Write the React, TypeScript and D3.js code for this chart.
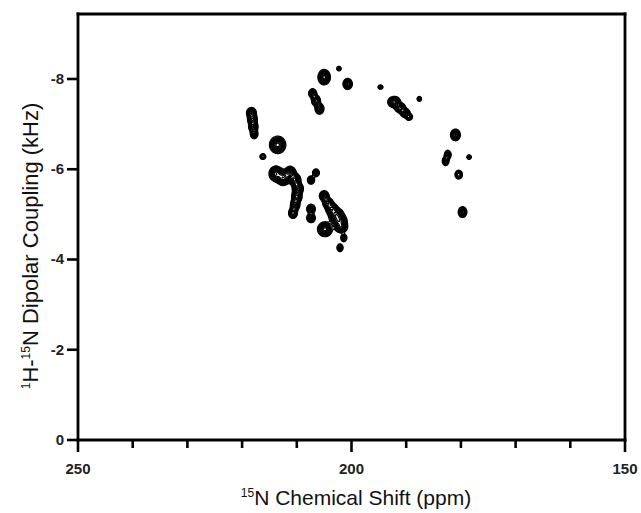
import React, { useMemo } from 'react';
import * as d3 from 'd3';

// peak components (15N ppm, 1H-15N coupling kHz)
const peakPpm = [
  205.0, 202.3, 200.7, 194.7, 187.6,
  207.1, 206.5, 205.85,
  192.2, 191.1, 190.2, 189.5,
  218.3, 218.1, 217.95, 217.8,
  213.5, 216.2,
  213.8, 212.5, 211.2, 210.3, 209.8, 210.0, 210.3, 210.7,
  207.4, 206.5,
  207.4, 207.4,
  205.0, 204.3, 203.6, 202.8, 202.3, 201.9,
  204.85,
  201.4, 202.1,
  181.0, 182.4, 182.8, 178.5, 180.4, 179.7,
];
const peakKhz = [
  -8.04, -8.23, -7.89, -7.82, -7.56,
  -7.68, -7.52, -7.34,
  -7.49, -7.36, -7.25, -7.16,
  -7.25, -7.10, -6.94, -6.78,
  -6.54, -6.28,
  -5.90, -5.81, -5.92, -5.76, -5.57, -5.39, -5.21, -5.03,
  -5.76, -5.92,
  -5.12, -4.92,
  -5.41, -5.25, -5.12, -4.99, -4.86, -4.72,
  -4.67,
  -4.48, -4.26,
  -6.76, -6.32, -6.18, -6.27, -5.88, -5.05,
];
const peakWidthPpm = [
  0.53, 0.26, 0.42, 0.29, 0.26,
  0.37, 0.40, 0.40,
  0.55, 0.48, 0.44, 0.35,
  0.44, 0.44, 0.42, 0.35,
  0.70, 0.31,
  0.60, 0.60, 0.50, 0.50, 0.48, 0.46, 0.42, 0.40,
  0.35, 0.35,
  0.40, 0.40,
  0.45, 0.48, 0.55, 0.66, 0.70, 0.58,
  0.64,
  0.31, 0.31,
  0.44, 0.32, 0.32, 0.26, 0.37, 0.40,
];
const peakWidthKhz = [
  0.080, 0.032, 0.061, 0.029, 0.035,
  0.053, 0.059, 0.059,
  0.059, 0.053, 0.048, 0.040,
  0.059, 0.059, 0.059, 0.053,
  0.090, 0.037,
  0.080, 0.080, 0.070, 0.070, 0.066, 0.066, 0.064, 0.061,
  0.048, 0.048,
  0.053, 0.053,
  0.058, 0.058, 0.064, 0.072, 0.072, 0.064,
  0.077,
  0.048, 0.048,
  0.064, 0.053, 0.053, 0.032, 0.053, 0.061,
];
const peakAmp = [
  1.0, 0.35, 0.8, 0.35, 0.35,
  0.7, 0.8, 0.8,
  1.0, 0.9, 0.8, 0.6,
  0.8, 0.8, 0.8, 0.7,
  1.0, 0.45,
  1.0, 1.0, 0.9, 0.9, 0.9, 0.85, 0.8, 0.75,
  0.6, 0.5,
  0.7, 0.7,
  0.7, 0.75, 0.8, 0.9, 0.9, 0.8,
  1.0,
  0.5, 0.5,
  0.8, 0.6, 0.6, 0.35, 0.55, 0.7,
];
const contourLevels = [0.1, 0.15, 0.21, 0.28, 0.36, 0.45, 0.55, 0.66, 0.78, 0.9, 1.05];

const xTickValues = [250, 240, 230, 220, 210, 200, 190, 180, 170, 160, 150];
const xLabelValues = [250, 200, 150];
const yTickValues = [0, -2, -4, -6, -8];

const width = 641;
const height = 513;
const left = 78, right = 625, top = 14, bottom = 440;

const App = () => {
  const x = d3.scaleLinear().domain([250, 150]).range([left, right]);
  const y = d3.scaleLinear().domain([0, -9.44]).range([bottom, top]);

  const paths = useMemo(() => {
    const gw = right - left;
    const gh = bottom - top;
    const vals = new Float64Array(gw * gh);
    peakPpm.forEach((p, k) => {
      const cx = x(p) - left;
      const cy = y(peakKhz[k]) - top;
      const sx = Math.abs(x(p + peakWidthPpm[k]) - x(p));
      const sy = Math.abs(y(peakKhz[k] + peakWidthKhz[k]) - y(peakKhz[k]));
      const i0 = Math.max(0, Math.floor(cx - 5 * sx));
      const i1 = Math.min(gw - 1, Math.ceil(cx + 5 * sx));
      const j0 = Math.max(0, Math.floor(cy - 5 * sy));
      const j1 = Math.min(gh - 1, Math.ceil(cy + 5 * sy));
      for (let j = j0; j <= j1; j++) {
        const dy = (j + 0.5 - cy) / sy;
        for (let i = i0; i <= i1; i++) {
          const dx = (i + 0.5 - cx) / sx;
          vals[j * gw + i] += peakAmp[k] * Math.exp(-0.5 * (dx * dx + dy * dy));
        }
      }
    });
    const cs = d3.contours().size([gw, gh]).thresholds(contourLevels)(Array.from(vals));
    const gp = d3.geoPath();
    return cs.map(c => gp(c));
  }, []);

  const font = 'Arial, "Liberation Sans", Helvetica, sans-serif';

  return (
    <svg width={width} height={height} style={{ position: 'absolute', left: 0, top: 0, background: '#fff' }}>
      <g transform={`translate(${left},${top})`}>
        {paths.map((d, i) => (
          <path key={i} d={d || ''} fill="none" stroke="#000" strokeWidth={1.2} />
        ))}
      </g>

      {/* frame */}
      <g stroke="#000" strokeWidth={2.8} fill="none" strokeLinecap="square">
        <line x1={left} x2={right} y1={top} y2={top} />
        <line x1={right} x2={right} y1={top} y2={bottom} />
        <line x1={left} x2={left} y1={top} y2={bottom} />
        <line x1={left} x2={right} y1={bottom} y2={bottom} />
      </g>

      {/* ticks */}
      <g stroke="#000" strokeWidth={2.6}>
        {xTickValues.map(v => (
          <line key={v} x1={x(v)} x2={x(v)} y1={bottom} y2={bottom + (xLabelValues.includes(v) ? 12 : 8)} />
        ))}
        {yTickValues.map(v => (
          <line key={v} x1={left - 11} x2={left} y1={y(v)} y2={y(v)} />
        ))}
      </g>

      <g fontFamily={font} fontWeight="bold" fontSize={15} fill="#222">
        {xLabelValues.map(v => (
          <text key={v} x={x(v)} y={474} textAnchor="middle">{v}</text>
        ))}
        {yTickValues.map(v => (
          <text key={v} x={64} y={y(v) + 5} textAnchor="end">{v}</text>
        ))}
      </g>

      <text x={356} y={505} textAnchor="middle" fontFamily={font} fontSize={21} fill="#111">
        <tspan fontSize={12} dy={-8}>15</tspan>
        <tspan dy={8}>N Chemical Shift (ppm)</tspan>
      </text>

      <text
        transform={`translate(38,246) rotate(-90)`}
        textAnchor="middle"
        fontFamily={font}
        fontSize={22}
        fill="#111"
      >
        <tspan fontSize={12} dy={-8}>1</tspan>
        <tspan dy={8}>H-</tspan>
        <tspan fontSize={12} dy={-8}>15</tspan>
        <tspan dy={8}>N Dipolar Coupling (kHz)</tspan>
      </text>
    </svg>
  );
};

export default App;
